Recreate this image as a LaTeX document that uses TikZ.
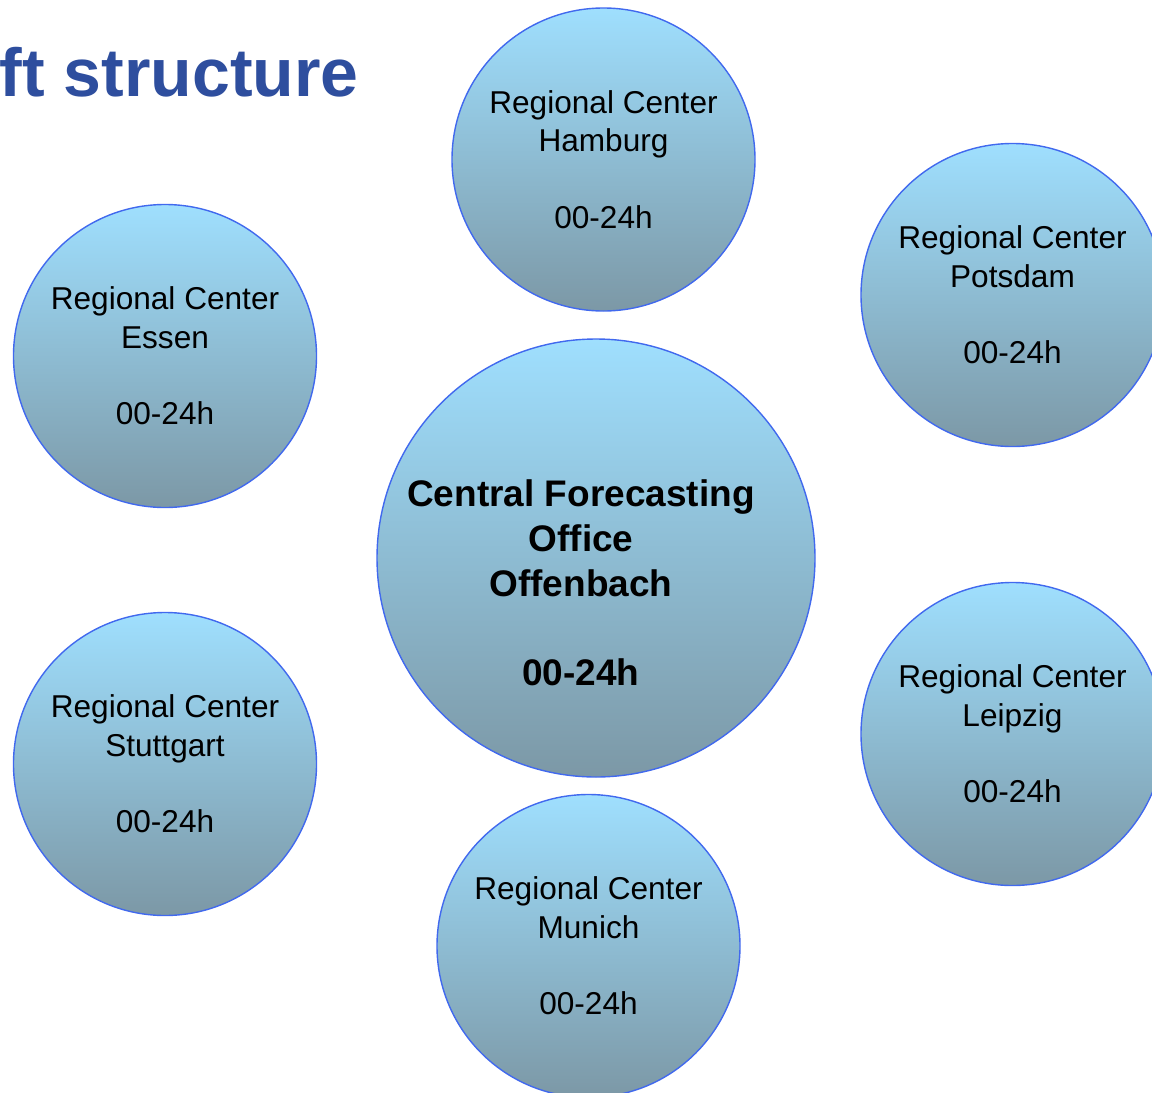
\documentclass[tikz,border=0pt]{standalone}
\usepackage{fontspec}
\setmainfont{Liberation Sans}
\definecolor{topblue}{HTML}{9FDFFE}
\definecolor{botblue}{HTML}{7C98A6}
\definecolor{rimblue}{HTML}{4169EE}
\definecolor{titleblue}{HTML}{2E4E9E}
\begin{document}
\begin{tikzpicture}[x=1pt,y=-1pt,
  bubble/.style={circle, draw=rimblue, line width=1.4pt, top color=topblue, bottom color=botblue,
    inner sep=0pt, align=center, font=\fontsize{31.6}{38.3}\selectfont},
  small/.style={bubble, minimum size=303pt},
  big/.style={bubble, minimum size=438pt},
  bigtext/.style={align=center, inner sep=0pt, font=\fontsize{37}{44.7}\selectfont\bfseries}]
\useasboundingbox (0,0) rectangle (1152,1093);
\clip (0,0) rectangle (1152,1093);
\node[anchor=base east, inner sep=0pt, text=titleblue, font=\fontsize{68}{72}\selectfont\bfseries] (title) at (359,96) {ft structure};
\node[small] (hamburg) at (603.5,159.5) {Regional Center\\Hamburg\\[38.3pt]00-24h};
\node[small] (potsdam) at (1012.5,295) {Regional Center\\Potsdam\\[38.3pt]00-24h};
\node[small] (essen) at (165,356) {Regional Center\\Essen\\[38.3pt]00-24h};
\node[big] (central) at (596,558) {};
\node[bigtext] (centraltext) at (581,583) {Central Forecasting\\Office\\Offenbach\\[44.7pt]00-24h};
\node[small] (leipzig) at (1012.5,734) {Regional Center\\Leipzig\\[38.3pt]00-24h};
\node[small] (stuttgart) at (165,764) {Regional Center\\Stuttgart\\[38.3pt]00-24h};
\node[small] (munich) at (588.5,946) {Regional Center\\Munich\\[38.3pt]00-24h};
\end{tikzpicture}
\end{document}
